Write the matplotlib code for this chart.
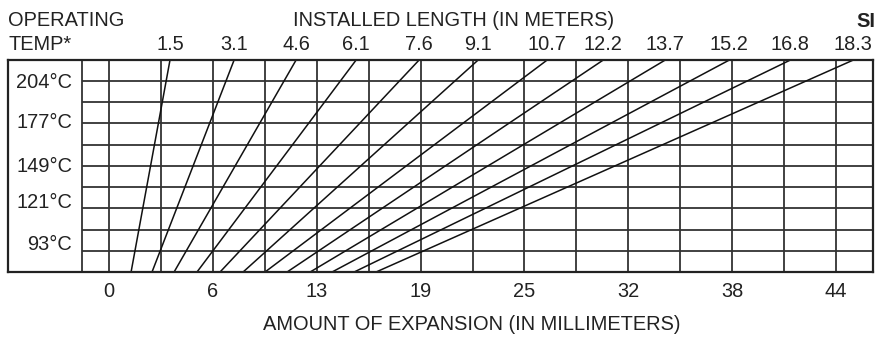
#!/usr/bin/env python3
"""Thermal expansion chart (SI): installed length vs. operating temperature."""

import matplotlib
matplotlib.use("Agg")
import matplotlib.pyplot as plt
import matplotlib.transforms as mtransforms
import numpy as np

W, H = 888, 339
INK = "#222222"
plt.rcParams["font.family"] = ["Liberation Sans", "DejaVu Sans"]

# Installed length (m) and expansion (mm) read at the top and bottom of the grid
LENGTH_LABELS = ["1.5", "3.1", "4.6", "6.1", "7.6", "9.1", "10.7", "12.2", "13.7", "15.2", "16.8", "18.3"]
TOP_MM = [3.73, 7.65, 11.44, 15.11, 18.96, 22.57, 26.79, 30.22, 34.01, 37.93, 41.66, 45.51]
BOTTOM_MM = [1.35, 2.63, 3.98, 5.38, 6.79, 8.20, 9.54, 10.89, 12.30, 13.64, 14.99, 16.33]

# Temperature grid (deg C), one row per 25 F
TEMP_GRID = [79.4, 93.3, 107.2, 121.1, 135.0, 148.9, 162.8, 176.7, 190.6, 204.4, 218.3]
TEMP_LABELS = ["204°C", "177°C", "149°C", "121°C", "93°C"]

# Expansion grid (mm), one column per 1/8 inch
MM_GRID = [0, 3.175, 6.35, 9.525, 12.7, 15.875, 19.05, 22.225, 25.4,
           28.575, 31.75, 34.925, 38.1, 41.275, 44.45]
MM_TICKS = [0, 6.35, 12.7, 19.05, 25.4, 31.75, 38.1, 44.45]
MM_TICK_LABELS = ["0", "6", "13", "19", "25", "32", "38", "44"]

# layout (pixels)
BOX_L, BOX_R, BOX_T, BOX_B = 8, 873, 60, 272
X_MIN, X_MAX = -6.175, 46.71
SEP_MM = -1.65
TEMP_BASELINES = [88, 128, 172, 208, 250]
FS = 14.4


def fx(px):
    return px / W


def fy(py):
    return 1 - py / H


fig = plt.figure(figsize=(W / 100, H / 100), dpi=100)
fig.patch.set_facecolor("white")
ax = fig.add_axes([fx(BOX_L), fy(BOX_B), fx(BOX_R - BOX_L), (BOX_B - BOX_T) / H])
ax.set_xlim(X_MIN, X_MAX)
ax.set_ylim(TEMP_GRID[0], TEMP_GRID[-1])
ax.set_xticks([])
ax.set_yticks([])
for spine in ax.spines.values():
    spine.set_color(INK)
    spine.set_linewidth(1.6)

# grid
ax.vlines(MM_GRID, TEMP_GRID[0], TEMP_GRID[-1], color="#333333", linewidth=1.3)
ax.axvline(SEP_MM, color="#333333", linewidth=1.3)
ax.hlines(TEMP_GRID[1:-1], SEP_MM, X_MAX, color="#333333", linewidth=1.3)

# expansion lines
for b, t in zip(BOTTOM_MM, TOP_MM):
    ax.plot([b, t], [TEMP_GRID[0], TEMP_GRID[-1]], color="#111111", linewidth=1.1)

# length labels along the top, expansion labels along the bottom
trans = mtransforms.blended_transform_factory(ax.transData, fig.transFigure)
for mm, lab in zip(TOP_MM, LENGTH_LABELS):
    ax.text(mm, fy(50), lab, transform=trans, ha="center", va="baseline",
            fontsize=FS, color=INK)
for mm, lab in zip(MM_TICKS, MM_TICK_LABELS):
    ax.text(mm, fy(297), lab, transform=trans, ha="center", va="baseline",
            fontsize=FS, color=INK)

# temperature labels
for yb, lab in zip(TEMP_BASELINES, TEMP_LABELS):
    fig.text(fx(72), fy(yb), lab, ha="right", va="baseline", fontsize=FS, color=INK)

fig.text(fx(8), fy(26), "OPERATING", ha="left", va="baseline", fontsize=FS, color=INK)
fig.text(fx(8), fy(50), "TEMP*", ha="left", va="baseline", fontsize=FS, color=INK)
fig.text(fx(454), fy(26), "INSTALLED LENGTH (IN METERS)", ha="center", va="baseline",
         fontsize=FS, color=INK)
fig.text(fx(875), fy(27), "SI", ha="right", va="baseline", fontsize=FS,
         fontweight="bold", color=INK)
fig.text(fx(472), fy(330), "AMOUNT OF EXPANSION (IN MILLIMETERS)", ha="center",
         va="baseline", fontsize=FS, color=INK)

fig.savefig("out.png", dpi=100, facecolor="white")
plt.close(fig)
